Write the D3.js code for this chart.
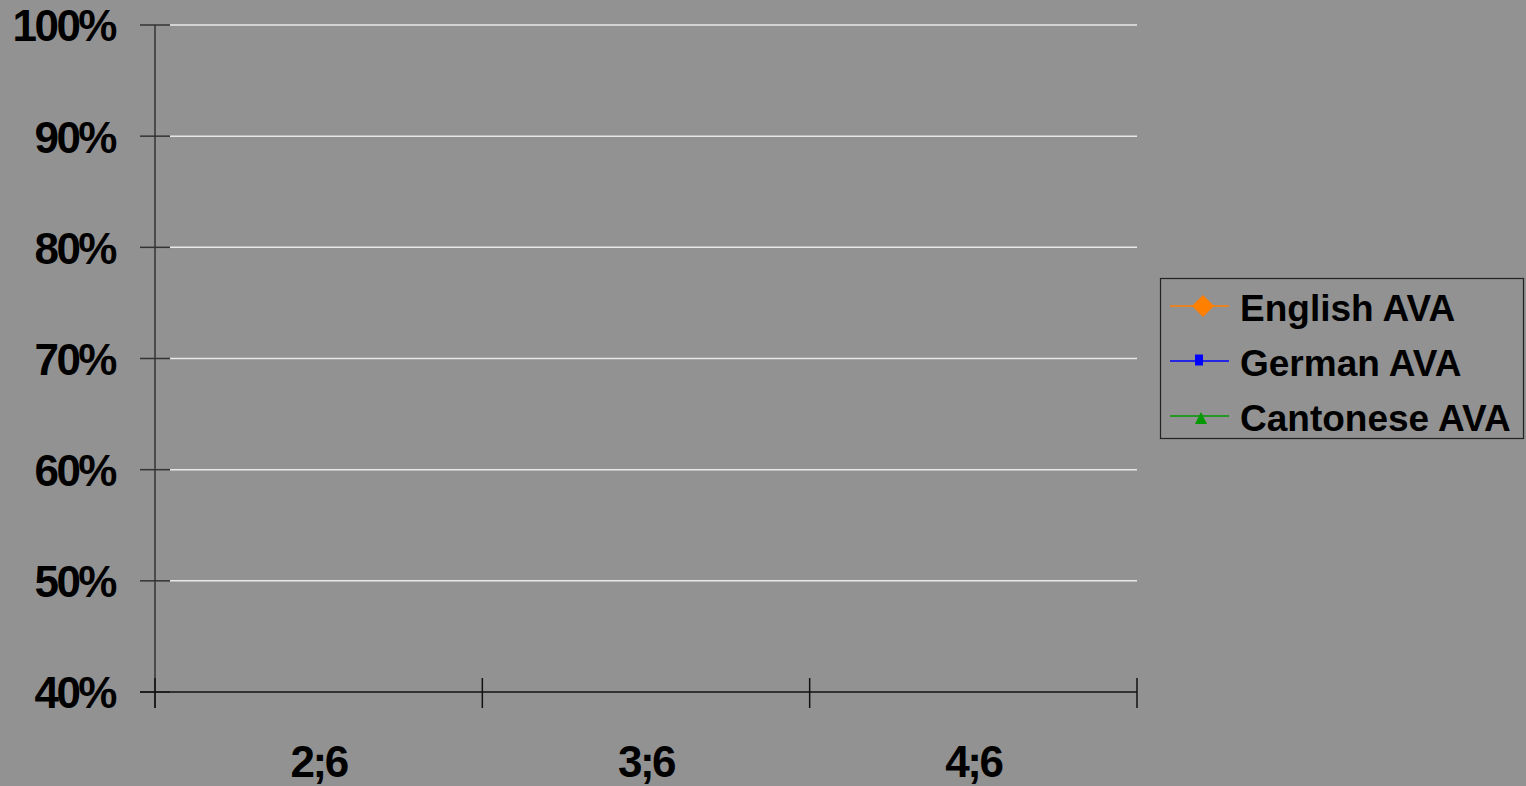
<!DOCTYPE html>
<html>
<head>
<meta charset="utf-8">
<script src="https://cdn.jsdelivr.net/npm/d3@7"></script>
<style>
  html, body { margin: 0; padding: 0; background: #929292; }
  svg { display: block; }
  text { font-family: "Liberation Sans", Arial, sans-serif; font-weight: bold; fill: #000; }
</style>
</head>
<body>
<svg id="chart" width="1526" height="786"></svg>
<script>
// Age groups along the x axis
const categories = ["2;6", "3;6", "4;6"];

// Series values (proportions); no points are recorded for these groups
const englishAVA = [null, null, null];
const germanAVA = [null, null, null];
const cantoneseAVA = [null, null, null];

// Y axis ticks
const yTicks = [0.4, 0.5, 0.6, 0.7, 0.8, 0.9, 1.0];

const series = [
  { name: "English AVA", values: englishAVA, color: "#ff7f00", marker: "diamond" },
  { name: "German AVA", values: germanAVA, color: "#0000ff", marker: "square" },
  { name: "Cantonese AVA", values: cantoneseAVA, color: "#009900", marker: "triangle" }
];

const svg = d3.select("#chart");

const plot = { left: 155, right: 1137, top: 25, bottom: 692 };

const x = d3.scaleBand().domain(categories).range([plot.left, plot.right]).padding(0);
const y = d3.scaleLinear().domain([0.4, 1.0]).range([plot.bottom, plot.top]);
const pct = d3.format(".0%");

// Horizontal gridlines
svg.append("g")
  .selectAll("line")
  .data(yTicks.filter(t => t > 0.4))
  .join("line")
  .attr("x1", plot.left + 15)
  .attr("x2", plot.right)
  .attr("y1", d => y(d))
  .attr("y2", d => y(d))
  .attr("stroke", "#e8e8e8")
  .attr("stroke-width", 1.5);

// Y axis
const yAxis = svg.append("g").attr("transform", `translate(${plot.left},0)`)
  .call(d3.axisLeft(y).tickValues(yTicks).tickFormat(pct).tickSize(0).tickPadding(40));
yAxis.select(".domain").remove();
yAxis.selectAll("text")
  .attr("font-size", 44)
  .attr("letter-spacing", -2.5)
  .attr("dy", "0.36em")
  .attr("fill", "#000")
  .attr("font-family", "Liberation Sans, Arial, sans-serif")
  .attr("font-weight", "bold");
svg.append("line")
  .attr("x1", plot.left).attr("x2", plot.left)
  .attr("y1", y(1.0)).attr("y2", plot.bottom + 16)
  .attr("stroke", "#333").attr("stroke-width", 1.5);
svg.append("g")
  .selectAll("line")
  .data(yTicks)
  .join("line")
  .attr("x1", plot.left - 15).attr("x2", plot.left + 15)
  .attr("y1", d => y(d)).attr("y2", d => y(d))
  .attr("stroke", "#333").attr("stroke-width", 1.5);

// X axis line and category boundary ticks
svg.append("line")
  .attr("x1", plot.left - 15).attr("x2", plot.right)
  .attr("y1", plot.bottom).attr("y2", plot.bottom)
  .attr("stroke", "#111").attr("stroke-width", 1.5);
const boundaries = categories.map(c => x(c)).concat([x(categories[categories.length - 1]) + x.bandwidth()]);
svg.append("g")
  .selectAll("line")
  .data(boundaries)
  .join("line")
  .attr("x1", d => d).attr("x2", d => d)
  .attr("y1", plot.bottom - 14).attr("y2", plot.bottom + 16)
  .attr("stroke", "#111").attr("stroke-width", 1.5);
svg.append("g")
  .selectAll("text")
  .data(categories)
  .join("text")
  .attr("x", d => x(d) + x.bandwidth() / 2)
  .attr("y", 777)
  .attr("text-anchor", "middle")
  .attr("font-size", 44)
  .attr("letter-spacing", -2.5)
  .text(d => d);

// Series lines and markers
const line = d3.line()
  .defined(d => d != null)
  .x((d, i) => x(categories[i]) + x.bandwidth() / 2)
  .y(d => y(d));

const markers = {
  diamond: { path: "M0,-11L11,0L0,11L-11,0Z", dx: 0, dy: 0 },
  square: { path: "M-4,-5.5H4V5.5H-4Z", dx: -4, dy: -1 },
  triangle: { path: "M0,-6L6,6H-6Z", dx: -2, dy: 2 }
};

series.forEach(s => {
  svg.append("path")
    .datum(s.values)
    .attr("d", line)
    .attr("fill", "none")
    .attr("stroke", s.color)
    .attr("stroke-width", 1.5);
  svg.append("g")
    .selectAll("path")
    .data(s.values.map((v, i) => ({ v, i })).filter(d => d.v != null))
    .join("path")
    .attr("transform", d => `translate(${x(categories[d.i]) + x.bandwidth() / 2},${y(d.v)})`)
    .attr("d", markers[s.marker].path)
    .attr("fill", s.color);
});

// Legend
const legend = svg.append("g");
legend.append("rect")
  .attr("x", 1160.5).attr("y", 278.5)
  .attr("width", 363).attr("height", 160)
  .attr("fill", "none")
  .attr("stroke", "#222")
  .attr("stroke-width", 1.2);
const rowY = [306, 361, 416];
series.forEach((s, i) => {
  const m = markers[s.marker];
  const g = legend.append("g").attr("transform", `translate(0,${rowY[i]})`);
  g.append("line")
    .attr("x1", 1170).attr("x2", 1229)
    .attr("y1", 0).attr("y2", 0)
    .attr("stroke", s.color).attr("stroke-width", 1.5);
  g.append("path")
    .attr("transform", `translate(${1203 + m.dx},${m.dy})`)
    .attr("d", m.path)
    .attr("fill", s.color);
  g.append("text")
    .attr("x", 1240)
    .attr("y", 2)
    .attr("dy", "0.36em")
    .attr("font-size", 37)
    .text(s.name);
});
</script>
</body>
</html>
